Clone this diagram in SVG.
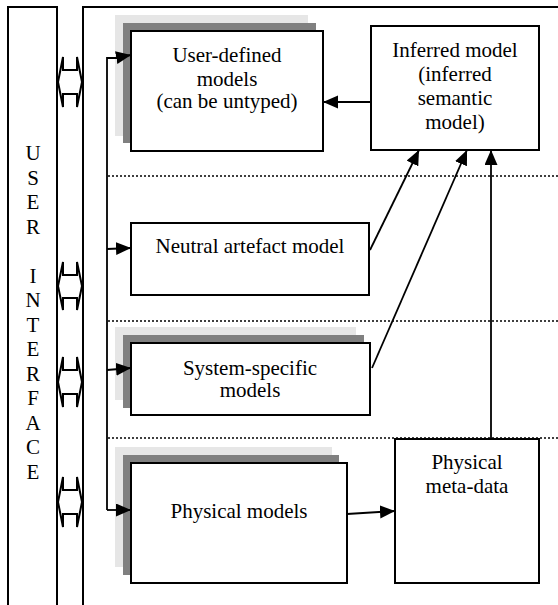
<svg xmlns="http://www.w3.org/2000/svg" width="558" height="605" viewBox="0 0 558 605">
<style>
.box{fill:#fff;stroke:#000;stroke-width:2}
.sh1{fill:#e6e6e6}
.sh2{fill:#808080}
.frame{fill:none;stroke:#000;stroke-width:2}
.dot{stroke:#000;stroke-width:1.3;stroke-dasharray:2 2;fill:none}
.con{stroke:#000;stroke-width:1.8;fill:none}
.dbl{fill:#fff;stroke:#000;stroke-width:2}
</style>
<defs>
<marker id="ah" markerUnits="userSpaceOnUse" markerWidth="16" markerHeight="14" refX="15" refY="6.5" orient="auto">
<path d="M0,0 L15,6.5 L0,13 z" fill="#000"/>
</marker>
</defs>
<rect width="558" height="605" fill="#fff"/>
<g font-family="'Liberation Serif', 'Times New Roman', 'DejaVu Serif', serif" font-size="21" text-anchor="middle" fill="#000">
<g id="ui-panel">
<path class="frame" d="M8,606 V7 H57 V606"/>
<text x="33" y="160">U</text>
<text x="33" y="184.5">S</text>
<text x="33" y="209">E</text>
<text x="33" y="233.5">R</text>
<text x="33" y="282.5">I</text>
<text x="33" y="307">N</text>
<text x="33" y="331.5">T</text>
<text x="33" y="356">E</text>
<text x="33" y="380.5">R</text>
<text x="33" y="405">F</text>
<text x="33" y="429.5">A</text>
<text x="33" y="454">C</text>
<text x="33" y="478.5">E</text>
</g>
<g id="model-panel">
<path class="frame" d="M83,606 V7 H559"/>
</g>
<g id="ui-links">
<path class="dbl" d="M63,57 L63,70 L77,70 L77,57 L82,82 L77,107 L77,94 L63,94 L63,107 L58,82 Z"/>
<path class="dbl" d="M63,262 L63,275 L77,275 L77,262 L82,286 L77,310 L77,298 L63,298 L63,310 L58,286 Z"/>
<path class="dbl" d="M63,357 L63,370 L77,370 L77,357 L82,382 L77,407 L77,394 L63,394 L63,407 L58,382 Z"/>
<path class="dbl" d="M63,477 L63,490 L77,490 L77,477 L82,502 L77,527 L77,514 L63,514 L63,527 L58,502 Z"/>
</g>
<g id="separators">
<line class="dot" x1="108" y1="176" x2="558" y2="176"/>
<line class="dot" x1="108" y1="321" x2="558" y2="321"/>
<line class="dot" x1="108" y1="438" x2="558" y2="438"/>
</g>
<g id="user-defined">
<rect class="sh1" x="115" y="15" width="193" height="121"/>
<rect class="sh2" x="123" y="23" width="193" height="120"/>
<rect class="box" x="131" y="31" width="192" height="120"/>
<text x="227" y="62">User-defined</text>
<text x="227" y="85.5">models</text>
<text x="227" y="108">(can be untyped)</text>
</g>
<g id="inferred">
<rect class="box" x="371" y="26" width="168" height="124"/>
<text x="455" y="57">Inferred model</text>
<text x="455" y="81">(inferred</text>
<text x="455" y="105">semantic</text>
<text x="455" y="129">model)</text>
</g>
<g id="neutral">
<rect class="box" x="131" y="223" width="238" height="72"/>
<text x="250" y="253">Neutral artefact model</text>
</g>
<g id="system-specific">
<rect class="sh1" x="115" y="327" width="241" height="73"/>
<rect class="sh2" x="123" y="335" width="241" height="73"/>
<rect class="box" x="131" y="343" width="239" height="72"/>
<text x="250" y="375">System-specific</text>
<text x="250" y="397">models</text>
</g>
<g id="physical-models">
<rect class="sh1" x="115" y="447" width="217" height="120"/>
<rect class="sh2" x="123" y="455" width="216" height="120"/>
<rect class="box" x="131" y="463" width="216" height="120"/>
<text x="239" y="518">Physical models</text>
</g>
<g id="physical-meta">
<rect class="box" x="395" y="439" width="144" height="144"/>
<text x="467" y="469">Physical</text>
<text x="467" y="493">meta-data</text>
</g>
</g>
<g id="connectors">
<path class="con" d="M107,510 V58 H118" />
<line class="con" x1="117" y1="57.5" x2="131" y2="55" marker-end="url(#ah)"/>
<line class="con" x1="107" y1="249" x2="131" y2="248" marker-end="url(#ah)"/>
<line class="con" x1="107" y1="370" x2="131" y2="368" marker-end="url(#ah)"/>
<line class="con" x1="107" y1="510" x2="131" y2="510" marker-end="url(#ah)"/>
<line class="con" x1="371" y1="102" x2="323" y2="102" marker-end="url(#ah)"/>
<line class="con" x1="370" y1="250" x2="419" y2="150" marker-end="url(#ah)"/>
<line class="con" x1="372" y1="368" x2="467" y2="150" marker-end="url(#ah)"/>
<line class="con" x1="491" y1="439" x2="491" y2="150" marker-end="url(#ah)"/>
<line class="con" x1="347" y1="514" x2="395" y2="511" marker-end="url(#ah)"/>
</g>
</svg>
